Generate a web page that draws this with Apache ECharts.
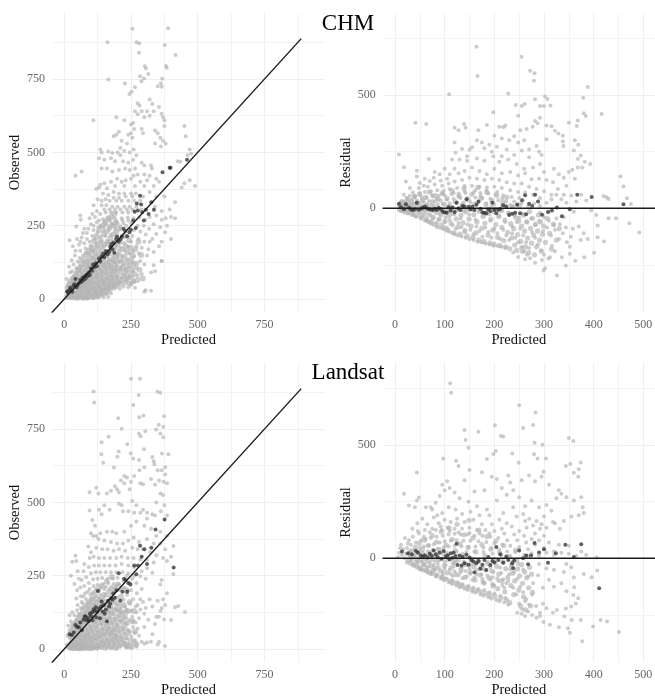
<!DOCTYPE html>
<html><head><meta charset="utf-8">
<style>html,body{margin:0;padding:0;background:#fff}#c{width:655px;height:698px;filter:blur(0.35px)}</style>
<script src="https://cdn.jsdelivr.net/npm/echarts@6/dist/echarts.min.js"></script>
</head><body><div id="c"></div>
<script>
const panelTitles = ['CHM','Landsat'];
const obsTickLabels = [0,250,500,750];
const obsMinor = [125,375,625,875];
const resXLabels = [0,100,200,300,400,500];
const resXMinor = [50,150,250,350,450];
const resYLabels = [0,500];
const resYGrid = [-250,250,750];
const oneToOne = [[-47,-47],[888,888]];
const zeroLine = [[-25,0],[524,0]];

const chmObsGray = [
255,922,389,923,162,876,271,876,281,872,377,866,280,840,417,832,165,749,227,735,265,722,244,699,252,707,302,794,306,786,381,795,384,789,315,767,284,760,299,752,289,743,367,751,350,726,362,735,365,724,109,610,
275,668,282,660,320,680,330,665,355,655,365,632,370,620,375,610,335,640,320,625,300,620,265,640,275,630,290,640,310,640,195,620,225,610,250,595,258,600,262,580,290,580,295,565,340,575,350,565,375,590,360,550,370,540,380,530,362,520,340,530,450,590,455,555,470,510,462,490,240,560,250,565,255,550,205,570,195,560,185,555,215,540,235,530,210,515,225,505,245,500,260,510,270,490,
135,510,140,500,165,503,180,498,200,500,210,490,130,480,150,475,175,480,190,470,220,470,240,465,258,475,290,465,325,455,328,445,300,455,265,445,245,440,228,445,205,440,180,435,160,445,140,445,65,435,42,420,260,420,275,425,300,425,320,420,345,410,355,400,310,405,285,400,250,410,230,405,215,400,198,410,175,400,150,395,135,390,130,380,120,375,160,378,190,385,225,385,265,385,300,385,335,385,
435,468,425,470,475,495,490,385,470,405,450,395,440,380,415,330,395,305,375,350,345,350,320,365,295,350,268,360,250,360,225,360,205,360,185,365,165,355,145,360,125,340,110,320,170,335,195,335,215,335,240,335,262,335,285,335,340,315,365,300,
380,275,400,280,415,275,270,315,245,315,225,315,200,315,180,315,158,320,140,320,122,300,105,290,115,280,60,285,62,270,95,275,135,290,155,295,175,295,195,295,218,295,240,295,262,300,290,305,320,280,345,285,365,270,385,250,400,205,378,228,360,245,335,255,305,270,282,278,260,275,238,278,215,275,190,275,165,275,145,272,122,262,100,255,75,240,85,225,
45,247,20,200,110,235,135,250,155,255,178,255,200,258,222,258,250,258,275,250,298,250,318,240,345,222,365,195,355,180,330,205,305,220,285,230,262,235,240,238,212,238,190,238,168,235,148,232,125,228,105,215,85,205,65,210,48,205,32,180,42,165,55,185,75,190,95,195,115,205,135,212,155,215,175,218,
320,195,300,195,278,205,255,215,365,130,335,160,315,170,290,175,270,180,250,195,232,215,215,215,195,215,140,195,120,190,100,178,80,172,60,165,40,148,28,132,50,128,70,148,90,155,110,165,128,175,148,178,165,195,182,195,205,195,225,190,240,178,258,165,280,155,310,148,335,115,340,95,365,130,
18,110,22,90,35,118,45,105,58,140,75,125,88,130,105,140,120,150,138,155,155,158,172,168,190,172,210,175,228,165,245,155,262,145,285,130,300,118,325,90,
8,68,12,45,15,28,28,72,30,95,38,80,48,88,62,110,78,100,95,108,112,118,130,125,148,132,165,138,182,148,200,152,218,145,235,135,255,125,270,105,290,85,305,30,300,25,325,28,
18,12,25,42,32,55,42,60,52,70,65,85,82,82,100,88,118,95,135,100,152,108,170,115,188,125,205,128,222,118,240,108,258,95,275,80,
8,3,15,6,22,18,30,28,38,38,48,42,58,55,72,62,88,65,105,72,122,75,140,80,158,88,175,92,192,100,210,100,228,88,245,78,262,60,
25,3,35,12,44,22,55,32,66,40,78,45,92,50,110,55,128,60,145,62,162,68,180,75,198,78,215,72,232,62,250,50,265,38,
36,2,48,6,56,15,68,22,80,28,95,33,112,38,130,42,148,48,165,50,185,55,202,52,222,42,240,40,
52,1,62,5,75,8,85,15,100,18,118,22,135,28,152,32,170,35,190,38,208,35,
70,2,90,4,105,8,122,10,140,15,158,18,175,20,
85,1,110,3,128,5,148,6,165,8,
13,18,20,32,33,22,40,48,50,55,60,38,70,75,84,52,96,60,108,92,125,85,142,92,160,100,178,105,195,112,212,108,230,100,68,52,78,72,90,92,102,122,116,135,134,142,150,145,168,152,186,160,204,165,60,95,74,115,92,118,110,108,128,112,146,118,164,125,180,132,198,138,214,130,44,72,54,100,86,108,
30,8,46,14,64,28,72,12,82,36,94,22,104,42,116,28,126,48,138,34,150,56,162,40,174,62,186,46,198,66,210,58,224,78,236,70,
140,335,155,340,185,345,205,345,230,350,255,350,150,305,170,305,190,305,210,305,235,305,255,305,130,268,150,265,172,265,195,265,218,268,240,268,110,250,128,245,148,245,170,245,190,248,210,248,232,250,90,240,70,225,60,195,80,158,100,165,118,178,138,185,158,188,175,182,195,185
];
const chmObsCore = [
11,9,13,38,17,16,19,52,23,7,23,60,27,44,29,9,31,37,33,66,34,19,37,8,37,58,39,76,41,29,43,14,43,48,46,86,47,5,49,64,51,26,51,98,54,38,54,9,56,76,58,19,59,108,61,48,62,33,63,124,65,70,66,14,67,96,69,42,71,4,71,134,73,58,74,20,75,88,77,36,79,114,80,50,81,10,83,150,84,70,85,24,86,128,88,44,89,98,90,6,91,60,92,165,93,28,94,84,95,140,97,48,98,12,99,112,100,68,101,36,102,178,103,92,104,22,105,150,106,56,107,8,108,130,109,78,110,40,111,198,112,104,113,18,114,62,115,165,116,90,117,30,118,140,119,48,120,215,121,76,122,10,123,120,124,36,125,185,126,64,127,100,128,24,129,155,130,50,131,235,132,82,133,14,134,125,135,38,136,200,137,66,138,108,139,26,140,170,141,54,142,92,143,250,144,18,145,138,146,72,147,40,148,220,149,116,150,30,151,185,152,60,153,96,154,262,155,22,156,150,157,78,158,44,159,230,160,122,161,34,162,195,163,66,164,104,165,275,166,28,167,160,168,84,169,50,170,245,171,128,172,40,173,208,174,72,175,110,176,280,177,46,178,170,179,92,180,60,181,252,182,136,183,38,184,220,185,80,186,118,187,290,188,50,189,178,190,98,191,68,192,260,193,144,194,44,195,228,196,86,197,124,198,56,199,186,200,106,
202,72,204,240,206,150,208,50,210,195,212,92,214,130,216,62,218,170,220,110,222,78,224,215,226,145,228,56,230,180,232,100,234,125,236,70,238,160,240,88,242,200,244,115,246,52,248,175,250,135,252,75,254,100,256,150,258,60,260,118,262,85,266,170,270,120,274,65,278,195,282,100,288,150,294,70
];
const chmObsDark = [
10,26,14,22,18,30,22,38,26,32,30,25,34,44,38,50,42,68,46,40,50,48,55,54,60,65,64,58,68,72,72,64,76,78,80,70,84,84,88,78,92,90,96,82,100,104,104,96,108,118,112,108,118,122,122,112,
130,138,135,128,140,146,146,155,150,142,156,164,162,152,168,160,172,178,176,188,180,170,184,192,188,158,194,204,198,212,204,196,210,204,216,212,222,240,228,232,236,214,244,228,250,236,
258,268,264,298,268,242,272,326,276,302,284,352,288,322,292,296,298,268,306,304,316,290,326,330,336,304,368,432,395,448,398,448,460,475
];
const chmResGray = [
164,713,255,669,166,584,272,607,281,596,280,563,388,535,228,507,109,503,379,488,302,493,307,482,282,481,416,416,380,419,384,407,198,424,243,456,255,451,261,460,292,451,300,451,313,454,248,409,41,378,63,372,368,387,366,363,350,378,8,238,18,181,22,118,68,218,44,166,
139,372,142,355,120,355,128,345,168,345,185,368,210,360,218,358,222,365,305,365,315,362,252,345,265,350,277,360,287,375,282,385,292,400,322,342,329,330,338,320,338,295,339,275,362,300,369,280,360,255,374,233,368,218,382,205,377,180,393,195,368,180,357,170,
122,245,145,230,155,270,165,300,175,290,190,280,200,320,215,308,230,300,240,318,248,290,260,300,270,260,285,275,290,250,295,235,305,305,120,290,135,262,150,258,180,265,195,250,205,272,215,230,225,260,240,235,255,255,270,225,
80,160,90,150,100,175,110,150,115,215,130,215,145,210,165,220,180,210,198,230,210,205,228,215,245,195,260,175,278,180,292,195,300,160,320,175,330,150,340,135,350,160,362,130,345,100,
44,140,50,112,60,130,70,120,78,135,92,122,105,130,120,175,128,155,140,165,155,180,170,165,185,150,200,175,215,155,232,160,248,145,262,155,275,128,290,130,305,125,318,115,328,85,340,60,
30,90,36,70,48,90,58,100,66,95,80,105,95,100,108,110,120,118,135,125,150,135,165,130,180,125,195,130,210,125,225,115,240,110,255,110,270,95,285,85,300,75,315,60,
18,60,24,45,30,55,40,55,50,68,60,72,72,75,85,80,98,78,110,85,125,90,140,98,155,100,170,95,185,92,200,95,215,90,232,80,248,72,262,70,278,60,292,45,
12,30,18,28,26,32,34,38,44,35,54,42,64,48,76,52,88,55,100,58,114,62,128,65,142,68,158,70,172,68,188,65,202,62,218,58,235,50,250,45,
8,12,14,14,22,18,30,20,38,22,48,22,58,28,68,32,80,30,92,35,104,38,118,42,132,45,146,46,162,48,176,46,192,42,208,36,224,30,
10,2,18,5,26,8,34,6,44,10,54,12,64,15,74,14,86,18,96,20,110,22,124,24,138,26,152,28,168,26,184,22,200,18,216,14,232,15,246,18,
12,-8,20,-12,24,-4,32,-8,38,-18,44,-6,50,-25,56,-5,62,-14,68,-4,72,-30,78,-12,84,-4,90,-24,96,-8,102,-40,108,-14,114,-4,120,-25,126,-6,132,-45,138,-12,144,-4,150,-28,156,-8,162,-50,168,-15,174,-4,180,-30,186,-8,192,-55,198,-16,204,-4,210,-35,216,-10,222,-60,228,-20,
26,-22,36,-30,42,-36,52,-42,58,-34,64,-50,70,-58,76,-44,82,-64,88,-50,94,-70,100,-62,104,-85,110,-52,116,-75,122,-90,128,-65,134,-82,140,-105,146,-72,152,-95,158,-115,164,-80,170,-100,176,-125,182,-85,188,-105,194,-130,200,-90,206,-110,212,-135,218,-95,224,-120,230,-140,236,-80,
60,-54,66,-60,72,-68,78,-74,84,-82,90,-86,96,-90,102,-98,108,-102,114,-108,120,-115,126,-120,134,-124,142,-130,150,-136,158,-140,166,-148,174,-150,182,-155,190,-160,198,-165,206,-165,214,-170,222,-175,
236,-110,242,-130,248,-150,254,-175,260,-190,266,-205,272,-220,245,-60,252,-90,258,-120,264,-150,270,-175,276,-105,282,-130,288,-160,294,-185,300,-205,
240,-30,250,-42,258,-25,266,-60,274,-45,282,-75,290,-55,298,-100,306,-85,314,-120,322,-95,330,-135,338,-110,346,-150,354,-125,292,-20,300,-40,310,-55,320,-75,332,-70,344,-85,358,-90,370,-80,380,-110,388,-135,374,-140,
326,-297,302,-265,299,-275,309,-221,312,-216,344,-254,336,-216,363,-231,381,-216,401,-196,421,-147,408,-128,408,-76,430,-44,445,-44,472,-66,492,-107,475,19,467,44,460,96,454,140,430,41,420,54,426,49,
352,-200,352,-170,322,-190,316,-165,296,-228,282,-240,262,-225,248,-215,238,-195,256,-170,
240,30,255,25,268,10,280,20,292,10,305,25,315,40,325,60,335,40,345,25,355,55,365,30,375,60,385,35,395,-10,405,-30,360,-15,340,-40,325,-45,310,-15,
22,8,40,48,62,8,84,42,106,8,128,52,150,10,172,55,194,8,216,44,236,8,
30,10,52,55,74,60,96,66,118,68,140,75,162,80,184,78,206,72
];
const chmResCore = [
9,-6,11,14,13,-10,15,30,17,2,19,-15,21,22,23,-2,25,42,27,-20,29,8,31,-12,33,30,35,-26,37,14,39,52,41,-4,43,-34,45,24,47,-14,49,62,51,4,53,-42,55,34,57,-20,59,-2,61,48,63,-50,65,14,67,-30,69,72,71,-8,73,-60,75,28,77,-40,79,6,81,56,83,-18,85,-72,87,40,89,-48,91,-4,93,-28,95,66,97,-84,99,18,101,-56,103,-12,105,44,107,-96,109,-32,111,8,113,-68,115,78,117,-22,119,-108,121,30,123,-46,125,-6,127,-82,129,54,131,-114,133,-30,135,14,137,-64,139,88,141,-98,143,-16,145,-122,147,38,149,-48,151,-4,153,-78,155,62,157,-128,159,-28,161,20,163,-108,165,-60,167,92,169,-140,171,-10,173,44,175,-88,177,-36,179,-146,181,-66,183,16,185,70,187,-118,189,-24,191,-152,193,-48,195,34,197,-96,199,-158,201,-4,203,-72,205,56,207,-128,209,-36,211,-164,213,-10,215,-84,217,26,219,-142,221,-52,223,-170,225,48,227,-106,229,-22,231,-178,233,-68,235,-130,237,8,239,-90,241,-162,243,-40,245,-186,247,-116,249,-56,251,14,253,-146,255,-78,257,-190,259,-30,261,-100,263,-170,265,-60,267,-132,269,-196,271,-14,273,-88,275,-154,277,-44,279,-118,281,-205,283,-70,285,-170,287,-100,289,-30,291,-140,293,-60,295,-190,297,-115,299,-78,303,-150,307,-45,311,-110,315,-180,319,-70,325,-140,331,-90
];
const chmResDark = [
8,20,12,5,18,-4,22,18,28,2,32,-5,36,-8,40,-4,44,25,48,-6,52,-2,56,2,60,8,64,0,68,-4,72,-5,76,-8,80,-2,84,-8,88,2,92,-4,96,-14,100,-18,104,-20,
108,5,112,-10,116,4,120,-16,124,24,128,0,132,-8,136,10,140,8,144,40,148,6,152,-4,156,8,160,-8,164,16,168,30,172,-2,176,-18,180,-20,184,-22,188,-4,192,-12,196,24,200,-8,204,-22,
208,-6,212,-2,218,14,224,8,230,-30,236,-24,242,-20,246,16,252,-22,256,36,262,58,264,-26,270,20,276,10,282,60,288,30,296,-28,308,-16,316,-10,326,4,336,-35,352,-4,367,60,396,50,460,18
];
const lsObsGray = [
110,878,112,841,250,922,284,922,279,866,349,877,360,874,259,832,374,794,281,790,297,796,202,787,215,751,166,724,140,705,280,735,286,726,304,743,344,749,354,765,371,758,360,735,371,722,236,698,249,667,299,681,390,664,366,667,139,664,204,674,199,656,146,635,186,619,
452,126,427,147,415,142,409,256,409,351,400,99,374,101,377,10,258,650,280,645,282,610,300,620,330,655,335,640,338,630,350,610,365,610,378,620,378,595,385,565,372,570,355,575,325,580,340,560,295,562,285,565,262,590,250,570,235,585,225,590,212,575,225,565,245,545,
190,555,198,545,205,535,175,540,160,530,120,550,128,530,95,535,255,505,270,490,285,465,310,465,330,460,340,455,370,525,360,530,375,490,385,455,362,470,345,500,310,445,295,475,262,465,240,470,220,470,205,495,215,490,170,475,150,490,130,475,140,460,95,472,
105,440,115,420,100,395,120,385,135,395,160,400,180,400,195,395,225,400,250,420,270,435,300,420,325,410,345,385,360,400,385,385,400,315,378,340,360,360,335,360,310,375,280,365,260,380,240,370,220,360,198,360,175,365,150,370,128,375,108,385,
90,350,100,330,120,345,142,340,162,340,185,335,205,340,228,335,255,345,275,340,295,340,322,330,345,320,370,310,385,300,365,235,360,220,385,190,378,150,365,140,355,110,340,85,355,25,350,15,325,25,310,22,300,18,
30,298,42,318,45,300,75,290,95,310,110,315,130,310,150,310,172,310,195,310,215,315,238,310,260,310,285,305,310,305,335,295,
25,250,50,265,55,240,72,265,92,280,112,285,130,285,150,285,170,285,192,285,215,290,240,285,262,280,290,265,310,275,330,260,
38,222,48,200,65,235,82,245,100,258,118,262,135,262,155,262,175,262,195,262,218,262,240,258,262,250,285,248,305,240,
45,172,60,210,75,215,92,225,108,238,125,240,142,242,162,240,182,240,200,242,222,232,245,225,
20,115,15,80,30,125,50,150,62,180,78,190,95,205,110,215,125,218,145,222,165,225,185,222,205,222,225,210,250,200,272,190,
25,95,38,115,48,132,65,160,82,170,98,185,112,195,128,200,150,205,170,205,190,205,210,200,235,185,258,170,285,170,
12,45,20,65,30,85,45,100,55,120,70,140,88,155,102,170,118,178,135,185,155,185,178,185,198,175,222,168,245,155,268,145,295,160,305,140,
10,15,20,40,32,60,42,78,55,95,68,115,82,130,96,145,112,155,128,165,145,168,165,165,185,160,208,150,228,145,250,130,270,125,
15,6,26,25,36,45,48,65,60,80,72,100,88,112,102,125,118,135,135,145,155,148,175,140,195,135,215,125,235,125,255,110,280,105,
22,3,30,15,40,30,52,48,65,62,78,85,92,95,108,108,125,118,142,128,162,125,182,120,205,115,225,105,242,100,268,90,
30,4,38,10,46,22,58,35,70,48,84,68,98,78,115,90,132,102,150,108,170,108,190,100,212,95,232,85,258,75,275,70,
36,1,44,5,54,16,64,28,76,38,90,52,104,62,120,75,138,85,158,88,178,88,198,80,220,72,240,65,265,55,
42,1,50,2,60,8,70,18,82,25,96,38,110,48,126,58,145,68,165,70,185,65,205,60,228,52,252,42,
50,0,58,1,66,4,76,10,88,14,102,24,118,34,134,42,152,50,172,52,192,48,212,42,235,35,262,28,
58,0,68,0,80,3,92,5,108,12,124,18,140,26,160,32,180,32,200,28,222,22,245,15,270,8,
70,1,84,0,98,1,114,3,130,8,148,12,168,15,188,12,210,8,232,5,255,5,
92,0,106,0,122,1,140,3,158,5,176,3,198,2,
75,30,60,20,85,45,95,28,110,36,125,45,140,52,160,60,178,55,195,42,215,30,235,20,
44,40,56,58,68,72,80,95,94,108,106,118,122,125,138,122,152,130,170,125,188,138,205,128,225,128,
104,6,118,8,134,12,152,20,170,24,186,22,205,18,225,12,
280,45,290,25,300,75,315,100,330,50,345,110,360,130,370,170,350,165,330,145,320,170,300,120,285,135,265,30,255,15,
270,20,248,3,238,8,245,60,258,95,275,150,290,205,270,225,255,240,235,250,
18,55,28,75,40,90,52,112,62,140,70,155,84,145,100,158,115,168,132,175,150,178,168,178,186,175,
78,120,92,135,106,142,120,148,138,155,158,155,176,152,196,150,212,138,232,135,
72,180,88,195,104,190,118,205,136,210,156,212,176,212,196,215,216,205,238,200
];
const lsObsCore = [
22,4,24,18,26,38,28,10,30,52,31,24,33,3,34,66,36,34,37,12,39,80,40,46,42,20,43,6,45,60,46,92,48,30,49,10,51,72,52,44,54,104,55,18,56,3,58,58,59,84,60,28,62,116,63,42,64,8,66,70,67,96,68,20,70,130,71,52,72,4,74,84,75,34,76,110,78,14,79,62,80,144,82,44,83,92,84,6,86,122,87,26,88,72,90,52,91,158,92,12,94,100,95,36,96,134,98,64,99,4,100,84,102,170,103,22,104,116,106,46,107,72,108,8,110,146,111,30,112,96,114,184,115,56,116,14,118,126,119,80,120,38,122,158,123,6,124,104,126,62,127,200,128,24,130,136,131,86,132,44,134,170,135,10,136,112,138,66,139,30,140,215,142,92,143,50,144,148,146,18,147,122,148,74,150,185,151,36,152,98,154,4,155,58,156,160,158,26,159,230,160,82,162,132,163,46,164,12,166,108,167,68,168,195,170,30,171,146,172,90,174,52,175,8,176,122,178,246,179,70,180,36,182,168,183,100,184,16,186,60,187,205,188,132,190,80,191,42,192,4,194,112,195,156,196,28,198,66,199,90,200,220,202,46,204,136,206,14,208,104,210,72,212,178,214,34,216,120,218,56,220,90,222,150,224,20,226,70,228,110,230,40,232,200,234,88,236,10,238,130,240,55,245,160,250,28,255,95,260,130,265,60,270,15
];
const lsObsDark = [
20,50,28,48,36,56,42,82,48,76,54,74,60,90,66,64,72,100,76,110,80,112,84,98,88,105,92,96,96,120,100,112,104,125,106,98,110,135,114,130,118,142,120,108,124,128,126,198,130,138,134,105,138,145,
140,162,144,128,148,150,152,120,156,135,160,95,164,165,168,145,172,155,176,172,180,168,184,190,190,175,196,200,204,258,210,165,218,195,224,240,230,235,236,195,240,225,248,220,
262,285,270,255,276,285,284,352,290,315,300,340,310,290,326,345,342,408,376,442,410,278
];
const lsResGray = [
111,772,113,731,250,675,283,644,201,587,140,566,168,559,258,575,278,588,213,540,218,537,142,522,148,488,350,531,359,518,281,510,297,501,236,463,203,474,198,460,280,459,287,441,304,441,185,438,97,441,123,431,128,407,249,422,299,382,44,379,374,423,353,416,344,407,370,393,360,378,369,360,
377,-366,451,-325,352,-328,348,-309,330,-304,312,-293,299,-281,399,-301,414,-272,427,-279,374,-272,356,-272,341,-257,326,-228,344,-221,355,-213,364,-199,369,-176,361,-128,359,-162,396,-84,407,-54,380,-69,406,4,
150,390,140,345,95,325,105,340,100,300,110,310,90,275,18,285,28,233,40,225,44,255,48,268,82,245,72,225,62,225,
175,380,195,360,205,350,228,365,232,335,255,345,270,365,282,340,295,360,310,325,330,300,335,285,345,270,325,265,360,255,375,270,378,225,380,200,370,190,355,185,340,165,322,155,295,150,
160,295,180,300,215,310,225,280,238,300,250,270,262,230,275,255,290,225,305,235,315,210,
120,290,130,265,148,250,165,230,185,215,205,255,218,200,238,225,258,195,270,175,285,165,300,185,318,160,332,130,
75,215,85,190,95,200,108,225,122,215,135,195,152,205,170,190,190,190,210,170,225,155,245,185,262,165,278,145,292,130,305,135,
35,130,45,155,55,175,65,150,78,180,88,155,100,170,112,160,125,175,140,160,158,170,175,150,195,150,215,130,235,140,250,120,265,135,282,110,300,100,
12,60,20,90,28,80,36,95,48,110,60,125,70,115,82,125,94,125,106,135,120,130,135,130,150,135,165,125,182,125,200,120,220,110,240,105,260,100,275,85,290,80,310,70,330,60,350,55,
8,25,16,40,24,45,32,60,42,70,52,80,62,85,72,90,84,95,96,100,108,105,120,108,132,105,146,105,160,100,176,100,192,95,208,90,226,80,246,80,264,70,282,60,300,45,320,30,
6,5,14,15,22,20,30,30,40,38,50,45,58,52,68,58,78,62,90,70,100,75,112,78,124,80,138,78,152,78,168,75,184,72,200,65,216,60,232,55,250,50,268,40,
20,0,30,8,38,12,48,20,56,25,66,30,76,38,86,42,98,48,108,52,120,55,134,52,148,50,162,52,178,48,194,45,210,38,226,30,242,28,
24,-18,32,-6,36,-25,44,-8,48,-38,54,-14,60,-4,64,-42,70,-18,74,-6,80,-50,86,-24,90,-8,96,-60,102,-30,106,-10,112,-68,118,-36,122,-12,128,-75,134,-40,138,-14,144,-80,150,-46,154,-14,160,-85,166,-50,170,-15,176,-90,182,-54,186,-16,192,-95,198,-60,202,-18,208,-100,214,-65,218,-18,224,-110,230,-70,
40,-34,46,-20,52,-46,58,-28,62,-56,68,-36,74,-64,78,-30,84,-72,88,-40,94,-82,100,-46,104,-90,110,-50,116,-98,120,-58,126,-106,132,-62,136,-115,142,-56,148,-122,152,-68,158,-130,164,-70,168,-135,174,-72,180,-140,186,-76,190,-150,196,-84,200,-155,206,-88,212,-165,218,-92,222,-175,228,-100,
50,-48,56,-54,66,-64,72,-70,82,-80,92,-90,98,-96,108,-106,114,-112,124,-120,130,-128,140,-134,146,-140,156,-148,162,-152,172,-160,178,-165,188,-172,194,-178,204,-184,210,-190,220,-195,228,-205,
234,-35,240,-60,246,-90,252,-125,258,-150,264,-180,270,-205,238,-130,244,-160,250,-200,256,-225,262,-190,268,-235,276,-160,284,-210,292,-240,298,-200,
236,-15,248,-25,258,-50,268,-80,278,-110,288,-75,298,-130,310,-95,320,-125,335,-110,345,-145,290,-25,305,-45,320,-50,340,-60,355,-40,360,-85,
246,-240,255,-245,262,-255,276,-250,285,-262,292,-255,305,-220,318,-240,
260,15,275,22,290,10,305,25,320,15,335,25,350,20,365,10,375,30,385,15,345,-25,
10,45,26,65,46,120,58,95,75,130,92,140,110,120,128,115,150,112,170,110,190,110,
30,10,48,2,66,12,84,20,104,25,124,30,144,28,160,30,178,28,196,20,214,12,232,10,
152,-30,172,-40,192,-40,212,-42,232,-48,180,-110,200,-120,220,-130,
60,-32,80,-12,100,-14,120,-22,140,-24,160,-26,76,-52,96,-70,116,-78,136,-88,156,-96,176,-104,196,-112,216,-118
];
const lsResCore = [
27,-8,29,18,31,-22,33,34,35,-2,37,-30,39,12,41,50,43,-18,45,-38,47,26,49,66,51,-6,53,-46,55,40,57,-26,59,80,61,6,63,-52,65,-14,67,56,69,-60,71,24,73,-34,75,100,77,-66,79,10,81,-44,83,72,85,-76,87,-6,89,38,91,-54,93,118,95,-84,97,22,99,-32,101,-92,103,58,105,-64,107,4,109,134,111,-100,113,-42,115,84,117,-18,119,-108,121,34,123,-72,125,150,127,-8,129,-114,131,64,133,-50,135,-122,137,16,139,104,141,-84,143,-28,145,-128,147,48,149,168,151,-62,153,-4,155,-136,157,90,159,-38,161,-96,163,28,165,-142,167,-12,169,124,171,-74,173,-148,175,60,177,-44,179,-108,181,12,183,-156,185,96,187,-24,189,-86,191,-162,193,40,195,-56,197,-122,199,-6,201,-168,203,76,205,-36,207,-134,209,-70,211,24,213,-176,215,-100,217,-14,219,56,221,-148,223,-46,225,-184,227,-84,229,8,231,-196,233,-120,235,-30,237,-66,239,-160,241,-100,243,36,245,-10,247,-46,249,-140,251,-78,253,-210,255,-28,257,-110,259,-170,261,-60,263,-228,265,-86,267,10,269,-130,271,-40,273,-210,275,-70,277,-150
];
const lsResDark = [
14,30,26,22,34,18,42,32,46,26,52,12,56,8,60,14,66,4,70,20,74,10,78,34,82,18,86,6,90,24,94,-2,98,32,102,8,106,14,110,-4,112,22,116,2,118,24,122,10,124,64,126,-30,130,12,
134,-32,136,6,140,-22,144,16,148,-28,150,4,154,-8,158,-14,160,-62,164,-22,168,-12,172,-46,176,-28,180,-8,184,-52,188,6,192,-30,196,-12,200,-18,204,50,208,-8,212,18,218,-20,224,8,228,-8,
236,-22,238,-44,240,-10,250,34,258,0,264,12,268,-26,274,12,281,68,290,26,300,40,308,-20,324,22,343,60,360,6,375,62,411,-132
];
const panels = [
 {gray:chmObsGray,core:chmObsCore,dark:chmObsDark,kind:'obs',left:52,top:13,yName:'Observed'},
 {gray:chmResGray,core:chmResCore,dark:chmResDark,kind:'res',left:382.7,top:13,yName:'Residual'},
 {gray:lsObsGray,core:lsObsCore,dark:lsObsDark,kind:'obs',left:52,top:363,yName:'Observed'},
 {gray:lsResGray,core:lsResCore,dark:lsResDark,kind:'res',left:382.7,top:363,yName:'Residual'}
];
const toPairs = f => { const o=[]; for(let i=0;i+1<f.length;i+=2) o.push([f[i],f[i+1]]); return o; };
const FONT='Liberation Serif', GRID='#efefef';
const grid=[],xAxis=[],yAxis=[],series=[];
panels.forEach((p,i)=>{
  const obs=p.kind==='obs';
  grid.push({left:p.left,top:p.top,width:obs?273:272.3,height:299,outerBoundsMode:'none'});
  const common={axisLine:{show:false},axisTick:{show:false},splitLine:{show:true,lineStyle:{color:GRID,width:1.2}},
    nameTextStyle:{fontFamily:FONT,fontSize:14.5,color:'#111'},nameLocation:'middle'};
  const lab=(v)=>({customValues:v,margin:7,fontFamily:FONT,fontSize:12,color:'#666',showMinLabel:true,showMaxLabel:true});
  const xT=obs?obsTickLabels:resXLabels, yT=obs?obsTickLabels:resYLabels;
  xAxis.push({...common,gridIndex:i,type:'value',name:'Predicted',nameGap:21,
    min:obs?-46:-24.8,max:obs?977:523.5,axisTick:{show:false,customValues:xT},axisLabel:lab(xT)});
  yAxis.push({...common,gridIndex:i,type:'value',name:p.yName,nameGap:29,
    min:obs?-44.3:-457.6,max:obs?975.4:861.9,axisTick:{show:false,customValues:yT},axisLabel:lab(yT)});
  const mx=obs?obsMinor:resXMinor, my=obs?obsMinor:resYGrid;
  series.push({type:'scatter',xAxisIndex:i,yAxisIndex:i,z:2,symbolSize:obs?6:5.2,silent:true,animation:false,
    data:toPairs(p.core),itemStyle:{color:'#bababa',opacity:0.72},
    markLine:{silent:true,animation:false,z:1,symbol:'none',label:{show:false},lineStyle:{color:'#f3f3f3',width:1,type:'solid'},
      data:[...mx.map(v=>({xAxis:v})),...my.map(v=>({yAxis:v}))]}});
  series.push({type:'scatter',xAxisIndex:i,yAxisIndex:i,z:2,symbolSize:4,silent:true,animation:false,
    data:toPairs(p.gray),itemStyle:{color:'#b4b4b4',opacity:0.68}});
  series.push({type:'scatter',xAxisIndex:i,yAxisIndex:i,z:3,symbolSize:4,silent:true,animation:false,
    data:toPairs(p.dark),itemStyle:{color:'#333333',opacity:0.78}});
  series.push({type:'line',xAxisIndex:i,yAxisIndex:i,z:4,showSymbol:false,silent:true,animation:false,clip:true,
    data:obs?oneToOne:zeroLine,lineStyle:{color:'#1a1a1a',width:1.4}});
});
const chart=echarts.init(document.getElementById('c'),null,{renderer:'canvas',width:655,height:698});
chart.setOption({backgroundColor:'#fff',animation:false,
  title:[{text:panelTitles[0],left:343,top:7,textAlign:'center',textStyle:{fontFamily:FONT,fontSize:23,fontWeight:'normal',color:'#000'}},
         {text:panelTitles[1],left:343,top:356,textAlign:'center',textStyle:{fontFamily:FONT,fontSize:23,fontWeight:'normal',color:'#000'}}],
  grid,xAxis,yAxis,series});
</script></body></html>
